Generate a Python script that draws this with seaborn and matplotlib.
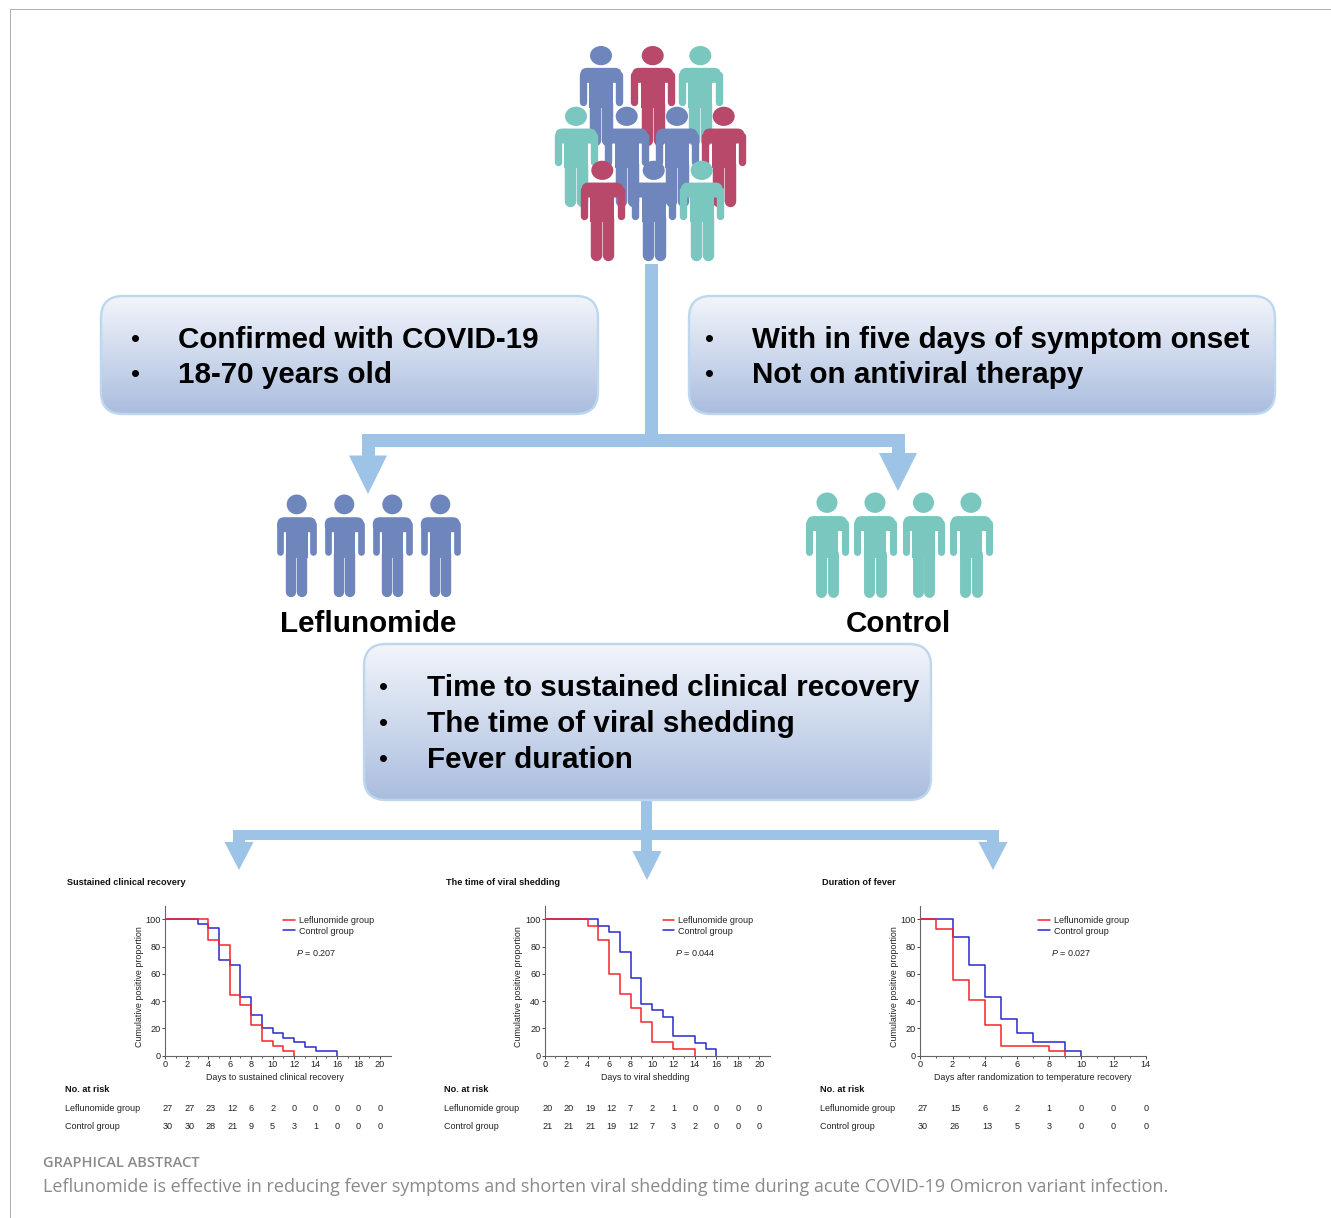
import numpy as np
import pandas as pd
import seaborn as sns
import matplotlib
matplotlib.use("Agg")
import matplotlib.pyplot as plt
from matplotlib.patches import Ellipse, FancyBboxPatch, Polygon, Rectangle
from matplotlib.transforms import blended_transform_factory

W, H = 1331, 1218
PX = 0.72  # one pixel in points at dpi 100

# Curve data, days and percent still positive
clin_lef_days = [0, 4, 5, 6, 7, 8, 9, 10, 11, 12]
clin_lef_vals = [100, 85.2, 81.5, 44.4, 37, 22.2, 11.1, 7.4, 3.7, 0]
clin_ctl_days = [0, 3, 4, 5, 6, 7, 8, 9, 10, 11, 12, 13, 14, 16]
clin_ctl_vals = [100, 96.7, 93.3, 70, 66.7, 43.3, 30, 20, 16.7, 13.3, 10, 6.7, 3.3, 0]

viral_lef_days = [0, 4, 5, 6, 7, 8, 9, 10, 12, 14]
viral_lef_vals = [100, 95, 85, 60, 45, 35, 25, 10, 5, 0]
viral_ctl_days = [0, 5, 6, 7, 8, 9, 10, 11, 12, 14, 15, 16]
viral_ctl_vals = [100, 95.2, 90.5, 76.2, 57.1, 38.1, 33.3, 28.6, 14.3, 9.5, 4.8, 0]

fever_lef_days = [0, 1, 2, 3, 4, 5, 8, 9]
fever_lef_vals = [100, 92.6, 55.6, 40.7, 22.2, 7.4, 3.7, 0]
fever_ctl_days = [0, 2, 3, 4, 5, 6, 7, 9, 10]
fever_ctl_vals = [100, 86.7, 66.7, 43.3, 26.7, 16.7, 10, 3.3, 0]

# Numbers at risk
clin_risk_lef = [27, 27, 23, 12, 6, 2, 0, 0, 0, 0, 0]
clin_risk_ctl = [30, 30, 28, 21, 9, 5, 3, 1, 0, 0, 0]
viral_risk_lef = [20, 20, 19, 12, 7, 2, 1, 0, 0, 0, 0]
viral_risk_ctl = [21, 21, 21, 19, 12, 7, 3, 2, 0, 0, 0]
fever_risk_lef = [27, 15, 6, 2, 1, 0, 0, 0]
fever_risk_ctl = [30, 26, 13, 5, 3, 0, 0, 0]

BLUE, RED, TEAL = "#6F86BC", "#B8496A", "#79C7BF"
ARROW = "#9DC3E6"

sns.set_theme(style="ticks")
plt.rcParams["font.family"] = ["Liberation Sans", "DejaVu Sans"]
plt.rcParams["mathtext.fontset"] = "custom"
plt.rcParams["mathtext.it"] = "Liberation Sans:italic"
plt.rcParams["mathtext.rm"] = "Liberation Sans"

fig = plt.figure(figsize=(W / 100, H / 100), dpi=100)
bg = fig.add_axes([0, 0, 1, 1])
bg.set_xlim(0, W)
bg.set_ylim(H, 0)
bg.axis("off")


def person(cx, top, h, w, color, z):
    # simple pictogram, sizes taken from the 104 x 40 px figure
    sy, sx = h / 104, w / 40
    bg.add_patch(Ellipse((cx, top + 10 * sy), 20 * sx, 20 * sy, color=color, lw=0, zorder=z))
    bg.add_patch(FancyBboxPatch((cx - 12.5 * sx, top + 30 * sy), 25 * sx, 1,
                                boxstyle="round,pad=7,rounding_size=7", fc=color, ec="none", zorder=z))
    bg.add_patch(Rectangle((cx - 10.8 * sx, top + 30 * sy), 21.6 * sx, 34 * sy, color=color, lw=0, zorder=z))
    for side in (-1, 1):
        bg.plot([cx + side * 16.7 * sx] * 2, [top + 30 * sy, top + 58 * sy], color=color,
                lw=6.7 * sx * PX, solid_capstyle="round", zorder=z)
        bg.plot([cx + side * 5.6 * sx] * 2, [top + 60 * sy, top + 98 * sy], color=color,
                lw=10.4 * sx * PX, solid_capstyle="round", zorder=z)


crowd = [
    (601, 46, BLUE, 3), (652.7, 46, RED, 3), (700.3, 46, TEAL, 3),
    (576, 106.7, TEAL, 4), (626.7, 106.7, BLUE, 4), (677, 106.7, BLUE, 4), (723.7, 106.7, RED, 4),
    (602.3, 160.7, RED, 5), (653.7, 160.7, BLUE, 5), (701.7, 160.7, TEAL, 5),
]
for cx, top, col, z in crowd:
    person(cx, top, 100, 44, col, z)
for cx in [296.7, 344.3, 392.3, 440.3]:
    person(cx, 494.5, 103, 40, BLUE, 3)
for cx in [827, 875, 923.5, 971]:
    person(cx, 492.5, 106, 42, TEAL, 3)


def bar(x0, y0, x1, y1):
    bg.add_patch(Rectangle((x0, y0), x1 - x0, y1 - y0, color=ARROW, lw=0, zorder=2))


def head(cx, y0, half, tip):
    bg.add_patch(Polygon([(cx - half, y0), (cx + half, y0), (cx, tip)], color=ARROW, lw=0, zorder=2))


# upper arrows
bar(645, 264, 658, 447)
bar(361.5, 434, 905, 447)
bar(361.5, 434, 374.5, 456)
bar(892, 434, 905, 454)
head(368, 455.5, 19, 494)
head(898, 453, 19, 491)
# lower arrows
bar(641, 800, 652, 840)
bar(233, 830, 999, 840)
bar(233, 830, 245, 843)
bar(641, 830, 652, 852)
bar(987, 830, 999, 843)
head(239, 842, 14.5, 870)
head(647, 851, 14.5, 880)
head(993, 842, 14.5, 870)

grad = np.linspace(0, 1, 256).reshape(-1, 1)
top_col = np.array(matplotlib.colors.to_rgb("#F2F5FB"))
bot_col = np.array(matplotlib.colors.to_rgb("#AABDDE"))
grad_img = top_col + (bot_col - top_col) * grad[..., None]


def rbox(x0, y0, x1, y1):
    box = FancyBboxPatch((x0 + 22, y0 + 22), x1 - x0 - 44, y1 - y0 - 44,
                         boxstyle="round,pad=22,rounding_size=22",
                         fc="none", ec="#BDD7EE", lw=2.4 * PX, zorder=7)
    bg.add_patch(box)
    im = bg.imshow(grad_img, extent=(x0, x1, y1, y0), aspect="auto", zorder=6)
    im.set_clip_path(box)


def bullets(xb, xt, ys, lines):
    for y, line in zip(ys, lines):
        bg.text(xb, y, "•", fontsize=18.5, ha="center", va="center", color="black", zorder=8)
        bg.text(xt, y, line, fontsize=21.3, fontweight="bold", ha="left", va="center", color="black", zorder=8)


rbox(101, 296, 598, 414)
bullets(135, 178, [339.5, 375], ["Confirmed with COVID-19", "18-70 years old"])
rbox(689, 296, 1275, 414)
bullets(709, 752, [339.5, 375], ["With in five days of symptom onset", "Not on antiviral therapy"])
rbox(364, 644, 931, 800)
bullets(384, 427, [688.5, 724.5, 760.5],
        ["Time to sustained clinical recovery", "The time of viral shedding", "Fever duration"])
bg.set_xlim(0, W)
bg.set_ylim(H, 0)

bg.text(368, 624.5, "Leflunomide", fontsize=21.3, fontweight="bold", ha="center", va="center", color="black")
bg.text(898, 624.5, "Control", fontsize=21.3, fontweight="bold", ha="center", va="center", color="black")

# page frame
bg.plot([10, 10, W], [H, 9, 9], color="#B0B0B0", lw=1 * PX)

bg.text(43, 1163, "GRAPHICAL ABSTRACT", family="Open Sans", fontweight="semibold", fontsize=10.5,
        color="#8A8A8A", va="center")
bg.text(43, 1186.5, "Leflunomide is effective in reducing fever symptoms and shorten viral shedding time "
        "during acute COVID-19 Omicron variant infection.", family="Open Sans", fontsize=13.0,
        color="#8A8A8A", va="center")


def km_panel(left, right, xmax, tickmax, title, xlabel, xlabel_cx, pval, lef, ctl, risk_lef, risk_ctl, lx):
    top, bottom = 905.7, 1055.7
    ax = fig.add_axes([left / W, 1 - bottom / H, (right - left) / W, (bottom - top) / H])
    ax.patch.set_alpha(0)
    df = pd.concat([
        pd.DataFrame({"day": lef[0], "pct": lef[1], "group": "Leflunomide group"}),
        pd.DataFrame({"day": ctl[0], "pct": ctl[1], "group": "Control group"}),
    ])
    sns.lineplot(data=df, x="day", y="pct", hue="group", ax=ax, drawstyle="steps-post", errorbar=None,
                 estimator=None, palette={"Leflunomide group": "#F5232B", "Control group": "#2A2ACB"},
                 linewidth=1.1)
    ax.lines[0].set_zorder(4)  # red sits on top where the curves overlap
    ax.set_xlim(0, xmax)
    ax.set_ylim(0, 110)
    ticks = np.arange(0, tickmax + 1, 2)
    ax.set_xticks(ticks)
    ax.set_xticks(np.arange(1, tickmax + 1, 2), minor=True)
    ax.set_yticks(np.arange(0, 101, 20))
    ax.tick_params(axis="both", which="major", labelsize=6.6, length=2, width=0.7, pad=1.2, color="#444444",
                   labelcolor="#222222")
    ax.tick_params(axis="x", which="minor", length=1.2, width=0.6, color="#444444")
    for s in ["top", "right"]:
        ax.spines[s].set_visible(False)
    for s in ["left", "bottom"]:
        ax.spines[s].set_linewidth(0.8)
        ax.spines[s].set_color("#666666")
    span = right - left
    ax.set_xlabel(xlabel, fontsize=6.4, color="#222222")
    ax.xaxis.set_label_coords((xlabel_cx - left) / span, -22.3 / 150, transform=ax.transAxes)
    ax.xaxis.label.set_va("center")
    ax.set_ylabel("Cumulative positive proportion", fontsize=6.4, color="#222222")
    ax.yaxis.set_label_coords(-26 / span, 0.458, transform=ax.transAxes)
    ax.yaxis.label.set_va("center")
    handles, labels = ax.get_legend_handles_labels()
    ax.legend(handles, labels, loc="center left", bbox_to_anchor=(left + 118, 926), bbox_transform=bg.transData,
              frameon=False, fontsize=6.5, borderpad=0, borderaxespad=0, labelspacing=0.12,
              handlelength=1.3, handletextpad=0.4, labelcolor="#222222")
    bg.text(left + 130.5, 952.5, "$\\mathit{P}$ = " + pval, fontsize=6.5, color="#222222", va="center")

    bg.text(lx + 2, 882.7, title, fontsize=6.6, fontweight="bold", color="#111111", va="center")
    bg.text(lx, 1090, "No. at risk", fontsize=6.6, fontweight="bold", color="#111111", va="center")
    bg.text(lx, 1108.7, "Leflunomide group", fontsize=6.5, color="#222222", va="center")
    bg.text(lx, 1126.7, "Control group", fontsize=6.5, color="#222222", va="center")
    tr = blended_transform_factory(ax.transData, bg.transData)
    shift = 2.6 * xmax / span
    for t, a, b in zip(ticks, risk_lef, risk_ctl):
        for y, n in ((1108.7, a), (1126.7, b)):
            ax.text(t + (shift if n > 9 else 0), y, str(n), transform=tr, fontsize=6.6, color="#222222",
                    ha="center", va="center", clip_on=False)
    return ax


km_panel(165.3, 390.7, 21, 20, "Sustained clinical recovery", "Days to sustained clinical recovery", 275, "0.207",
         (clin_lef_days, clin_lef_vals), (clin_ctl_days, clin_ctl_vals), clin_risk_lef, clin_risk_ctl, 65.3)
km_panel(544.7, 770, 21, 20, "The time of viral shedding", "Days to viral shedding", 645, "0.044",
         (viral_lef_days, viral_lef_vals), (viral_ctl_days, viral_ctl_vals), viral_risk_lef, viral_risk_ctl, 444.5)
km_panel(920.3, 1145.7, 14, 14, "Duration of fever", "Days after randomization to temperature recovery", 1032.7,
         "0.027",
         (fever_lef_days, fever_lef_vals), (fever_ctl_days, fever_ctl_vals), fever_risk_lef, fever_risk_ctl, 820.3)

fig.savefig("out.png", dpi=100)
